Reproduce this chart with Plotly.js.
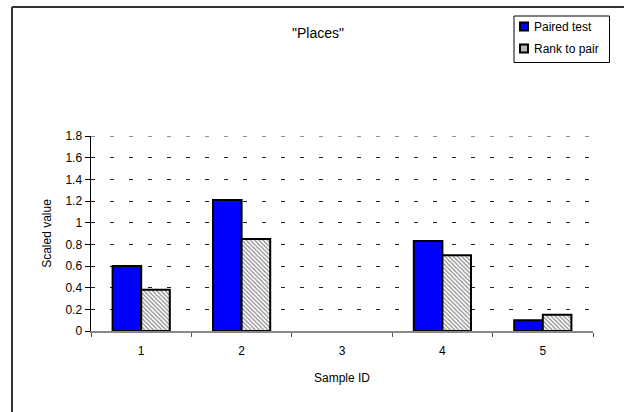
<!DOCTYPE html>
<html>
<head>
<meta charset="utf-8">
<script src="https://cdn.plot.ly/plotly-3.0.1.min.js"></script>
<style>html,body{margin:0;padding:0;background:#fff;}#chart{width:624px;height:412px;}</style>
</head>
<body>
<div id="chart"></div>
<script>
const categories = ["1", "2", "3", "4", "5"];
const pairedTest = [0.60, 1.21, null, 0.83, 0.10];
const rankToPair = [0.38, 0.85, null, 0.70, 0.15];
const yTickVals = [0, 0.2, 0.4, 0.6, 0.8, 1, 1.2, 1.4, 1.6, 1.8];
const yTickText = ["0", "0.2", "0.4", "0.6", "0.8", "1", "1.2", "1.4", "1.6", "1.8"];
const seriesNames = ["Paired test", "Rank to pair"];

const FF = "Liberation Sans, Arial, sans-serif";
const font = {family: FF, size: 12, color: "#000"};

// pixel -> paper helpers (plot area: x 91..593, y 136..331)
const L = 91, R = 593, T = 136, B = 331;
const px = v => (v - L) / (R - L);
const py = v => (B - v) / (B - T);
const yMax = yTickVals[yTickVals.length - 1];

const traces = [
  {
    type: "bar", name: seriesNames[0], x: categories, y: pairedTest, showlegend: false,
    marker: {color: "#0000ff", line: {color: "#000", width: 2}}
  },
  {
    type: "bar", name: seriesNames[1], x: categories, y: rankToPair, showlegend: false,
    marker: {color: "#ffffff", line: {color: "#000", width: 2},
      pattern: {shape: "\\", fgcolor: "#888", bgcolor: "#fff", size: 3, solidity: 0.4}}
  }
];

const layout = {
  width: 624, height: 412,
  margin: {l: L, r: 624 - R, t: T, b: 412 - B, autoexpand: false},
  paper_bgcolor: "#fff", plot_bgcolor: "#fff",
  font: font,
  showlegend: false,
  barmode: "group", bargap: 0.43, bargroupgap: 0,
  title: {text: "\"Places\"", x: 318 / 624, xref: "container", xanchor: "center",
          y: 1 - 33 / 412, yref: "container", yanchor: "middle",
          font: {family: FF, size: 14, color: "#000"}},
  xaxis: {
    type: "category", tickson: "boundaries", ticks: "outside", ticklen: 4, tickcolor: "#555",
    showline: true, linecolor: "#888", linewidth: 1.5, showgrid: false, zeroline: false,
    tickfont: font, ticklabelstandoff: 8, fixedrange: true, automargin: false,
    title: {text: "Sample ID", font: font, standoff: 16}
  },
  yaxis: {
    range: [0, yMax], tickvals: yTickVals, ticktext: yTickText,
    ticks: "outside", ticklen: 5, tickcolor: "#000",
    showline: true, linecolor: "#000", linewidth: 1.5,
    showgrid: true, gridcolor: "#222", gridwidth: 1, griddash: "4px,15px",
    zeroline: false, tickfont: font, automargin: false,
    title: {text: "Scaled value", font: font, standoff: 11}
  },
  shapes: [
    // top gridline (at the edge of the plot area)
    {type: "line", xref: "paper", yref: "y", x0: 0, x1: 1, y0: yMax, y1: yMax,
     line: {color: "#222", width: 1, dash: "4px,15px"}},
    // outer chart-area frame (top and left edges visible)
    {type: "line", xref: "paper", yref: "paper", x0: px(12), x1: 2, y0: py(7), y1: py(7),
     line: {color: "#333", width: 2}},
    {type: "line", xref: "paper", yref: "paper", x0: px(12), x1: px(12), y0: py(7), y1: -1,
     line: {color: "#333", width: 2}},
    // legend box
    {type: "rect", xref: "paper", yref: "paper", x0: px(514), x1: px(609.5), y0: py(62.5), y1: py(16),
     line: {color: "#000", width: 1}, fillcolor: "#fff"},
    // legend keys
    {type: "rect", xref: "paper", yref: "paper", x0: px(520), x1: px(528), y0: py(30.5), y1: py(22.5),
     line: {color: "#000", width: 2}, fillcolor: "#0000ff"},
    {type: "rect", xref: "paper", yref: "paper", x0: px(520), x1: px(528), y0: py(52.5), y1: py(44.5),
     line: {color: "#000", width: 2}, fillcolor: "#b8b8b8"}
  ],
  annotations: [
    {text: seriesNames[0], xref: "paper", yref: "paper", x: px(531.5), y: py(26.5),
     xanchor: "left", yanchor: "middle", showarrow: false, font: font},
    {text: seriesNames[1], xref: "paper", yref: "paper", x: px(531.5), y: py(48.5),
     xanchor: "left", yanchor: "middle", showarrow: false, font: font}
  ]
};

Plotly.newPlot("chart", traces, layout, {displayModeBar: false, staticPlot: true});
</script>
</body>
</html>
